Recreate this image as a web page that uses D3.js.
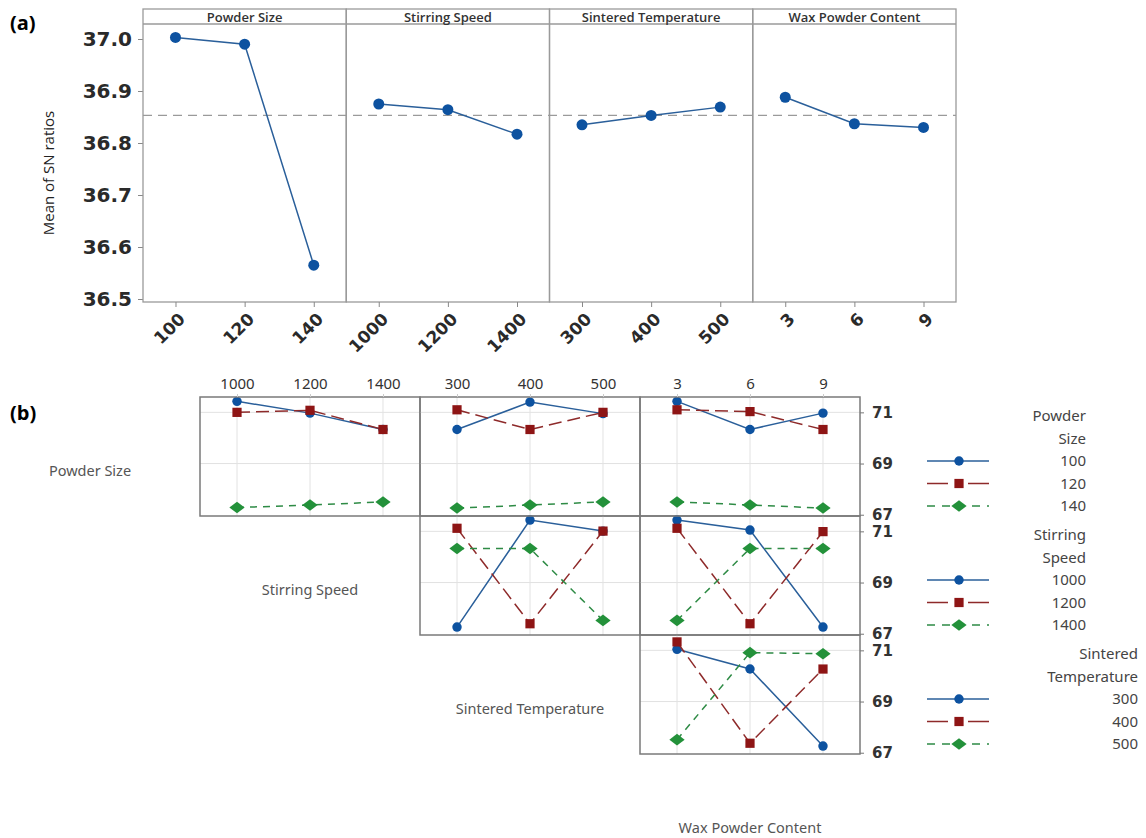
<!DOCTYPE html>
<html>
<head>
<meta charset="utf-8">
<script src="https://cdn.jsdelivr.net/npm/d3@7"></script>
<style>
  body { margin: 0; background: #fff; }
  svg { display: block; }
</style>
</head>
<body>
<div id="chart"></div>
<script>
// ---- data ----
var factors = ["Powder Size", "Stirring Speed", "Sintered Temperature", "Wax Powder Content"];
var levels = [["100", "120", "140"], ["1000", "1200", "1400"], ["300", "400", "500"], ["3", "6", "9"]];

// (a) main effects, mean of SN ratios
var snPowder = [37.003, 36.990, 36.565];
var snStirring = [36.875, 36.864, 36.817];
var snSintered = [36.835, 36.853, 36.869];
var snWax = [36.888, 36.837, 36.830];
var snOverall = 36.853;
var yTicksA = [36.5, 36.6, 36.7, 36.8, 36.9, 37.0];

// (b) interaction means, one row per line level
var psBySS = [[71.43, 70.97, 70.33], [71.00, 71.08, 70.33], [67.28, 67.38, 67.50]];
var psBySt = [[70.33, 71.40, 70.95], [71.10, 70.33, 71.00], [67.26, 67.38, 67.50]];
var psByWax = [[71.43, 70.33, 70.97], [71.10, 71.03, 70.33], [67.50, 67.38, 67.26]];
var ssBySt = [[67.26, 71.44, 71.01], [71.12, 67.39, 71.01], [70.33, 70.33, 67.52]];
var ssByWax = [[71.44, 71.05, 67.26], [71.12, 67.39, 70.99], [67.52, 70.33, 70.33]];
var stByWax = [[71.04, 70.27, 67.26], [71.33, 67.37, 70.27], [67.51, 70.91, 70.87]];
var yTicksB = [67, 69, 71];
var legendTitles = [["Powder", "Size"], ["Stirring", "Speed"], ["Sintered", "Temperature"]];

var mainEffects = [snPowder, snStirring, snSintered, snWax];
var cells = [
  {row: 0, col: 1, values: psBySS},
  {row: 0, col: 2, values: psBySt},
  {row: 0, col: 3, values: psByWax},
  {row: 1, col: 2, values: ssBySt},
  {row: 1, col: 3, values: ssByWax},
  {row: 2, col: 3, values: stByWax}
];

var seriesColor = ["#0d52a0", "#8e1515", "#23913a"];
var lineColor = ["#2a5f9a", "#8e2a2a", "#2e8b45"];
var dashes = [null, "13,6", "7,6"];
var symbols = [d3.symbolCircle, d3.symbolSquare, d3.symbolDiamond2];
var symSize = [70, 85, 95];
var boldFont = "DejaVu Sans, sans-serif";

var svg = d3.select("#chart").append("svg")
    .attr("width", 1146)
    .attr("height", 838);

// ---- (a) main effects plot ----
var aLeft = 143, aRight = 956, aTop = 9, aHead = 24, aBottom = 302;
var panelX = d3.scaleBand().domain(factors).range([aLeft, aRight]);
var yA = d3.scaleLinear().domain([36.5, 37.0]).range([299, 39]);

var gA = svg.append("g");

svg.append("text")
    .attr("x", 10).attr("y", 30)
    .style("font-family", "Open Sans, sans-serif")
    .style("font-weight", "700")
    .style("font-size", "20px")
    .text("(a)");

gA.append("text")
    .attr("transform", "translate(54," + ((aHead + aBottom) / 2 + 10) + ") rotate(-90)")
    .attr("text-anchor", "middle")
    .style("font-family", "Open Sans, sans-serif")
    .style("font-size", "15px")
    .attr("fill", "#222")
    .text("Mean of SN ratios");

var yAxisA = gA.append("g")
    .attr("transform", "translate(" + aLeft + ",0)")
    .call(d3.axisLeft(yA).tickValues(yTicksA).tickFormat(d3.format(".1f")).tickSize(5).tickPadding(6));
yAxisA.select(".domain").remove();
yAxisA.selectAll("line").attr("stroke", "#888");
yAxisA.selectAll("text")
    .style("font-family", boldFont)
    .style("font-weight", "700")
    .style("font-size", "20px")
    .attr("fill", "#2a2a2a");

// reference line
gA.append("line")
    .attr("x1", aLeft).attr("x2", aRight)
    .attr("y1", yA(snOverall)).attr("y2", yA(snOverall))
    .attr("stroke", "#9a9a9a")
    .attr("stroke-width", 1.3)
    .attr("stroke-dasharray", "9,6");

factors.forEach(function(f, i) {
    var x0 = panelX(f), w = panelX.bandwidth();
    var xp = d3.scalePoint().domain(levels[i]).range([x0, x0 + w]).padding(0.47);

    gA.append("rect")
        .attr("x", x0).attr("y", aTop)
        .attr("width", w).attr("height", aBottom - aTop)
        .attr("fill", "none").attr("stroke", "#9a9a9a").attr("stroke-width", 1.3);
    gA.append("line")
        .attr("x1", x0).attr("x2", x0 + w)
        .attr("y1", aHead).attr("y2", aHead)
        .attr("stroke", "#9a9a9a").attr("stroke-width", 1.3);
    gA.append("text")
        .attr("x", x0 + w / 2).attr("y", (aTop + aHead) / 2 + 5)
        .attr("text-anchor", "middle")
        .style("font-family", "Open Sans, sans-serif")
        .style("font-weight", "600")
        .style("font-size", "13px")
        .attr("fill", "#333")
        .text(f);

    var xAxis = gA.append("g")
        .attr("transform", "translate(0," + aBottom + ")")
        .call(d3.axisBottom(xp).tickSize(5));
    xAxis.select(".domain").remove();
    xAxis.selectAll("line").attr("stroke", "#888");
    xAxis.selectAll("text")
        .attr("y", 0).attr("dy", "0.35em")
        .attr("transform", "translate(6,14) rotate(-45)")
        .attr("text-anchor", "end")
        .style("font-family", boldFont)
        .style("font-weight", "700")
        .style("font-size", "17px")
        .attr("fill", "#2a2a2a");

    var pts = levels[i].map(function(l, k) { return [xp(l), yA(mainEffects[i][k])]; });
    gA.append("path")
        .attr("d", d3.line()(pts))
        .attr("fill", "none")
        .attr("stroke", "#2a5f9a")
        .attr("stroke-width", 1.5);
    gA.selectAll(null)
        .data(pts)
        .enter()
        .append("circle")
        .attr("cx", function(d) { return d[0]; })
        .attr("cy", function(d) { return d[1]; })
        .attr("r", 5.5)
        .attr("fill", "#0d52a0");
});

// ---- (b) interaction plot matrix ----
var colB = d3.scaleBand().domain([0, 1, 2, 3]).range([-20, 860]);
var rowB = d3.scaleBand().domain([0, 1, 2, 3]).range([397, 873]);
var cellW = colB.bandwidth(), cellH = rowB.bandwidth();
var yB = d3.scaleLinear().domain([66.95, 71.6]).range([cellH, 0]);

var gB = svg.append("g");

svg.append("text")
    .attr("x", 10).attr("y", 420)
    .style("font-family", "Open Sans, sans-serif")
    .style("font-weight", "700")
    .style("font-size", "20px")
    .text("(b)");

factors.forEach(function(f, i) {
    gB.append("text")
        .attr("x", colB(i) + cellW / 2)
        .attr("y", rowB(i) + cellH / 2 + 19)
        .attr("text-anchor", "middle")
        .style("font-family", "Noto Sans, sans-serif")
        .style("font-size", "14.5px")
        .attr("fill", "#555")
        .text(f);
});

cells.forEach(function(c) {
    var g = gB.append("g")
        .attr("transform", "translate(" + colB(c.col) + "," + rowB(c.row) + ")");
    var xp = d3.scalePoint().domain(levels[c.col]).range([0, cellW]).padding(0.507);

    // grid
    g.selectAll(null).data(levels[c.col]).enter().append("line")
        .attr("x1", function(d) { return xp(d); })
        .attr("x2", function(d) { return xp(d); })
        .attr("y1", 0).attr("y2", cellH)
        .attr("stroke", "#e2e2e2");
    g.selectAll(null).data([69, 71]).enter().append("line")
        .attr("x1", 0).attr("x2", cellW)
        .attr("y1", function(d) { return yB(d); })
        .attr("y2", function(d) { return yB(d); })
        .attr("stroke", "#e2e2e2");

    c.values.forEach(function(vals, s) {
        var pts = levels[c.col].map(function(l, k) { return [xp(l), yB(vals[k])]; });
        g.append("path")
            .attr("d", d3.line()(pts))
            .attr("fill", "none")
            .attr("stroke", lineColor[s])
            .attr("stroke-width", 1.5)
            .attr("stroke-dasharray", dashes[s]);
        g.selectAll(null).data(pts).enter().append("path")
            .attr("d", d3.symbol(symbols[s], symSize[s]))
            .attr("transform", function(d) {
                return "translate(" + d[0] + "," + d[1] + ")" + (s === 2 ? " scale(1.25,0.95)" : "");
            })
            .attr("fill", seriesColor[s]);
    });

    g.append("rect")
        .attr("width", cellW).attr("height", cellH)
        .attr("fill", "none").attr("stroke", "#7a7a7a").attr("stroke-width", 1.5);

    if (c.row === 0) {
        var top = g.append("g").call(d3.axisTop(xp).tickSize(3).tickPadding(5));
        top.select(".domain").remove();
        top.selectAll("line").attr("stroke", "#ccc");
        top.selectAll("text")
            .style("font-family", "Noto Sans, sans-serif")
            .style("font-size", "15px")
            .attr("fill", "#333");
    }
    if (c.col === 3) {
        var right = g.append("g")
            .attr("transform", "translate(" + cellW + ",0)")
            .call(d3.axisRight(yB).tickValues(yTicksB).tickFormat(d3.format("d")).tickSize(4).tickPadding(8));
        right.select(".domain").remove();
        right.selectAll("line").attr("stroke", "#777");
        right.selectAll("text")
            .style("font-family", boldFont)
            .style("font-weight", "700")
            .style("font-size", "15px")
            .attr("fill", "#333");
    }
});

// legend
var legendRight = [1086, 1086, 1138];
legendTitles.forEach(function(title, r) {
    var g = gB.append("g").attr("transform", "translate(0," + rowB(r) + ")");
    var lines = title.concat(levels[r]);
    g.selectAll(null).data(lines).enter().append("text")
        .attr("x", legendRight[r])
        .attr("y", function(d, k) { return 24 + k * 22.5; })
        .attr("text-anchor", "end")
        .style("font-family", "Noto Sans, sans-serif")
        .style("font-size", "15px")
        .attr("fill", "#444")
        .text(function(d) { return d; });
    levels[r].forEach(function(l, s) {
        var y = 24 + (s + 2) * 22.5 - 5;
        g.append("line")
            .attr("x1", 927).attr("x2", 989)
            .attr("y1", y).attr("y2", y)
            .attr("stroke", lineColor[s])
            .attr("stroke-width", 1.6)
            .attr("stroke-dasharray", s === 0 ? null : (s === 1 ? "21,20" : "8,7"));
        g.append("path")
            .attr("d", d3.symbol(symbols[s], symSize[s]))
            .attr("transform", "translate(959," + y + ")" + (s === 2 ? " scale(1.25,0.95)" : ""))
            .attr("fill", seriesColor[s]);
    });
});
</script>
</body>
</html>
